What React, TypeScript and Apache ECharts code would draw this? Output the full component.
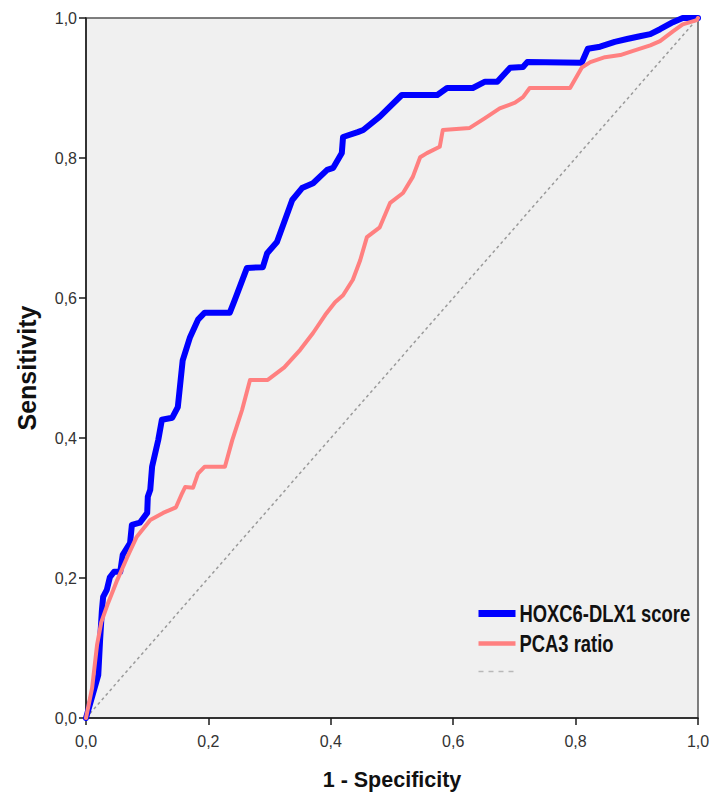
import React, { useEffect, useRef } from "react";
import * as echarts from "echarts";

// ROC curve for the HOXC6-DLX1 score: false positive rate (1 - specificity) and sensitivity
const hoxcFpr = [
  0.0, 0.003, 0.02, 0.023, 0.026, 0.028, 0.034, 0.039, 0.046, 0.056, 0.06, 0.072,
  0.075, 0.088, 0.1, 0.101, 0.105, 0.108, 0.118, 0.124, 0.141, 0.15, 0.158, 0.17,
  0.183, 0.194, 0.235, 0.243, 0.263, 0.289, 0.296, 0.312, 0.337, 0.353, 0.371,
  0.394, 0.404, 0.418, 0.42, 0.444, 0.453, 0.48, 0.516, 0.574, 0.59, 0.632, 0.652,
  0.672, 0.693, 0.714, 0.721, 0.81, 0.82, 0.84, 0.864, 0.884, 0.905, 0.922, 0.938,
  0.959, 0.975, 1.0,
];
const hoxcTpr = [
  0.0, 0.009, 0.061, 0.111, 0.154, 0.173, 0.183, 0.201, 0.209, 0.209, 0.233, 0.25,
  0.276, 0.279, 0.293, 0.316, 0.326, 0.359, 0.397, 0.426, 0.429, 0.444, 0.511, 0.544,
  0.569, 0.579, 0.579, 0.597, 0.643, 0.644, 0.664, 0.68, 0.74, 0.757, 0.764, 0.783,
  0.786, 0.807, 0.83, 0.837, 0.84, 0.859, 0.89, 0.89, 0.9, 0.9, 0.909, 0.909, 0.929,
  0.93, 0.937, 0.936, 0.956, 0.959, 0.966, 0.97, 0.974, 0.977, 0.984, 0.994, 1.0, 1.0,
];

// ROC curve for the PCA3 ratio
const pca3Fpr = [
  0.0, 0.01, 0.018, 0.025, 0.036, 0.051, 0.067, 0.083, 0.105, 0.126, 0.147, 0.157,
  0.162, 0.175, 0.183, 0.194, 0.227, 0.239, 0.255, 0.268, 0.297, 0.324, 0.35, 0.371,
  0.391, 0.407, 0.42, 0.436, 0.448, 0.459, 0.48, 0.497, 0.518, 0.534, 0.546, 0.557,
  0.578, 0.583, 0.627, 0.652, 0.676, 0.701, 0.714, 0.725, 0.791, 0.81, 0.824, 0.848,
  0.873, 0.894, 0.922, 0.938, 0.959, 0.975, 0.998, 1.0,
];
const pca3Tpr = [
  0.0, 0.043, 0.104, 0.137, 0.164, 0.197, 0.229, 0.259, 0.283, 0.293, 0.301, 0.321,
  0.33, 0.329, 0.349, 0.359, 0.359, 0.397, 0.44, 0.483, 0.483, 0.501, 0.526, 0.55,
  0.576, 0.594, 0.604, 0.626, 0.654, 0.687, 0.701, 0.736, 0.75, 0.773, 0.801, 0.807,
  0.816, 0.84, 0.843, 0.857, 0.871, 0.879, 0.887, 0.9, 0.9, 0.929, 0.937, 0.944,
  0.947, 0.953, 0.961, 0.967, 0.981, 0.991, 0.997, 1.0,
];

// Chance line
const chanceFpr = [0, 1];
const chanceTpr = [0, 1];

const seriesNames = ["HOXC6-DLX1 score", "PCA3 ratio", "Reference line"];
const xTitle = "1 - Specificity";
const yTitle = "Sensitivity";

const seriesColors = ["#0000ff", "#ff8080", "#9a9a9a"];

const pairs = (xs: number[], ys: number[]) => xs.map((x, i) => [x, ys[i]]);
const commaLabel = (v: number) => v.toFixed(1).replace(".", ",");

const sans = "'Liberation Sans', Arial, sans-serif";

// Legend drawn as a small key: line sample + condensed bold label
function legendRow(y: number, color: string, width: number, dash: number[] | null, label: string | null) {
  const children: any[] = [
    {
      type: "line",
      shape: { x1: 0, y1: y, x2: 37, y2: y },
      style: { stroke: color, lineWidth: width, lineDash: dash || undefined },
    },
  ];
  if (label) {
    children.push({
      type: "text",
      x: 41,
      y,
      scaleX: 0.8,
      style: {
        text: label,
        fontFamily: sans,
        fontWeight: "bold",
        fontSize: 23,
        fill: "#111",
        verticalAlign: "middle",
        align: "left",
      },
    });
  }
  return children;
}

export default function App() {
  const ref = useRef<HTMLDivElement>(null);

  useEffect(() => {
    if (!ref.current) return;
    const chart = echarts.init(ref.current, null, { renderer: "svg" });

    const axisCommon = {
      type: "value" as const,
      min: 0,
      max: 1,
      interval: 0.2,
      splitLine: { show: false },
      axisLine: { show: true, lineStyle: { color: "#1a1a1a", width: 1.5 } },
      axisTick: { show: true, length: 7, lineStyle: { color: "#1a1a1a", width: 1.5 } },
      nameLocation: "middle" as const,
    };

    chart.setOption({
      animation: false,
      backgroundColor: "#ffffff",
      grid: {
        left: 86,
        right: 15,
        top: 18,
        bottom: 81,
        show: true,
        backgroundColor: "#f0f0f0",
        borderColor: "#555",
        borderWidth: 1.5,
      },
      xAxis: {
        ...axisCommon,
        name: xTitle,
        nameGap: 51,
        nameTextStyle: { fontFamily: sans, fontWeight: "bold", fontSize: 21.5, color: "#111" },
        axisLabel: {
          formatter: commaLabel,
          fontFamily: sans,
          fontSize: 16,
          color: "#333",
          margin: 15,
        },
      },
      yAxis: {
        ...axisCommon,
        name: yTitle,
        nameGap: 47,
        nameTextStyle: { fontFamily: sans, fontWeight: "bold", fontSize: 25, color: "#111" },
        axisLabel: {
          formatter: commaLabel,
          fontFamily: sans,
          fontSize: 16,
          color: "#333",
          margin: 9,
        },
      },
      graphic: [
        {
          type: "group",
          left: 475,
          top: 602,
          children: [
            ...legendRow(13, seriesColors[0], 7, null, seriesNames[0]),
            ...legendRow(43, seriesColors[1], 4.5, null, seriesNames[1]),
            ...legendRow(71, "#b8b8b8", 1.5, [5, 5], null),
          ],
        },
      ],
      series: [
        {
          name: seriesNames[2],
          type: "line",
          data: pairs(chanceFpr, chanceTpr),
          symbol: "none",
          lineStyle: { color: seriesColors[2], width: 1.5, type: [3, 3] },
          z: 1,
        },
        {
          name: seriesNames[0],
          type: "line",
          data: pairs(hoxcFpr, hoxcTpr),
          symbol: "none",
          lineStyle: { color: seriesColors[0], width: 6, join: "round", cap: "round" },
          z: 2,
        },
        {
          name: seriesNames[1],
          type: "line",
          data: pairs(pca3Fpr, pca3Tpr),
          symbol: "none",
          lineStyle: { color: seriesColors[1], width: 4, join: "round", cap: "round" },
          z: 3,
        },
      ],
    });

    return () => chart.dispose();
  }, []);

  return (
    <div
      ref={ref}
      style={{ position: "fixed", left: 0, top: 0, width: 713, height: 799 }}
    />
  );
}
